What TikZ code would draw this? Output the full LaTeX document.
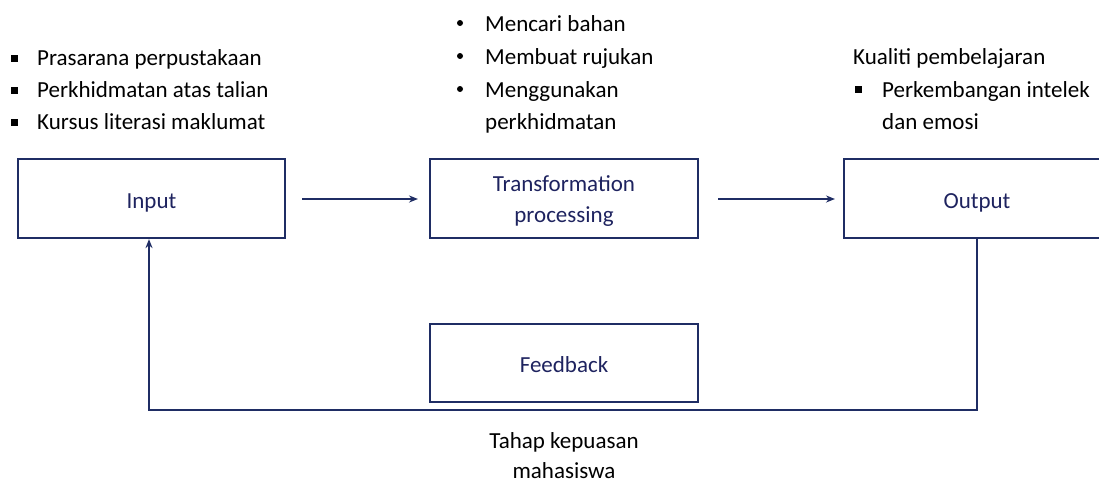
\documentclass[tikz,border=0pt]{standalone}
\usepackage{fontspec}
\setmainfont{Carlito}
\usetikzlibrary{arrows.meta}
\definecolor{navy}{RGB}{31,45,100}
\definecolor{txtnavy}{RGB}{30,35,95}
\tikzset{
  blk/.style={draw=navy, line width=2.2pt, minimum height=79pt, inner sep=0pt},
  blbl/.style={font=\fontsize{23}{31}\selectfont, text=txtnavy, anchor=base, inner sep=0pt, align=center},
  lbl/.style={anchor=base west, inner sep=0pt, font=\fontsize{23}{28}\selectfont, text=black},
  sqb/.style={fill=black, minimum size=7pt, inner sep=0pt},
  rdb/.style={fill=black, circle, minimum size=6pt, inner sep=0pt},
  con/.style={draw=navy, line width=2pt, -{Stealth[length=9pt,width=7pt]}},
}
\begin{document}
\begin{tikzpicture}[x=1pt,y=-1pt]
\useasboundingbox (0,0) rectangle (1099,482);
% boxes
\node[blk, minimum width=267pt] (in) at (151.5,198.5) {};
\node[blbl] (inl) at (151.5,208) {Input};
\node[blk, minimum width=268pt] (tr) at (564,198.5) {};
\node[blbl] (trl) at (564,222) {Transformation\\processing};
\node[blk, minimum width=280pt, anchor=west] (out) at (843,198.5) {};
\node[blbl] (outl) at (977,208) {Output};
\node[blk, minimum width=268pt, minimum height=78pt] (fb) at (564,363) {};
\node[blbl] (fbl) at (564,372) {Feedback};
% arrows
\coordinate (a1) at (302,199); \coordinate (a2) at (418,199);
\coordinate (b1) at (718,199); \coordinate (b2) at (835,199);
\draw[con] (a1) -- (a2);
\draw[con] (b1) -- (b2);
\coordinate (o1) at (977,410); \coordinate (i1) at (149,410);
\draw[con] (out.south -| outl) -- (o1) -- (i1) -- (i1 |- in.south);
% left bullets
\node[sqb] (s1) at (14,58) {}; \node[lbl] (l1) at (37,65) {Prasarana perpustakaan};
\node[sqb] (s2) at (14,90) {}; \node[lbl] (l2) at (37,97) {Perkhidmatan atas talian};
\node[sqb] (s3) at (14,122) {}; \node[lbl] (l3) at (37,129) {Kursus literasi maklumat};
% middle bullets
\node[rdb] (r1) at (460,23) {}; \node[lbl] (m1) at (485,31) {Mencari bahan};
\node[rdb] (r2) at (460,56) {}; \node[lbl] (m2) at (485,64) {Membuat rujukan};
\node[rdb] (r3) at (460,89) {}; \node[lbl] (m3) at (485,97) {Menggunakan};
\node[lbl] (m4) at (485,129) {perkhidmatan};
% right
\node[lbl] (k1) at (853,64) {Kualiti pembelajaran};
\node[sqb] (s4) at (858,89) {}; \node[lbl] (k2) at (882,97) {Perkembangan intelek};
\node[lbl] (k3) at (882,129) {dan emosi};
% bottom label
\node[font=\fontsize{23}{30}\selectfont, align=center, anchor=base, inner sep=0pt] (th) at (564,478) {Tahap kepuasan\\mahasiswa};
\end{tikzpicture}
\end{document}
